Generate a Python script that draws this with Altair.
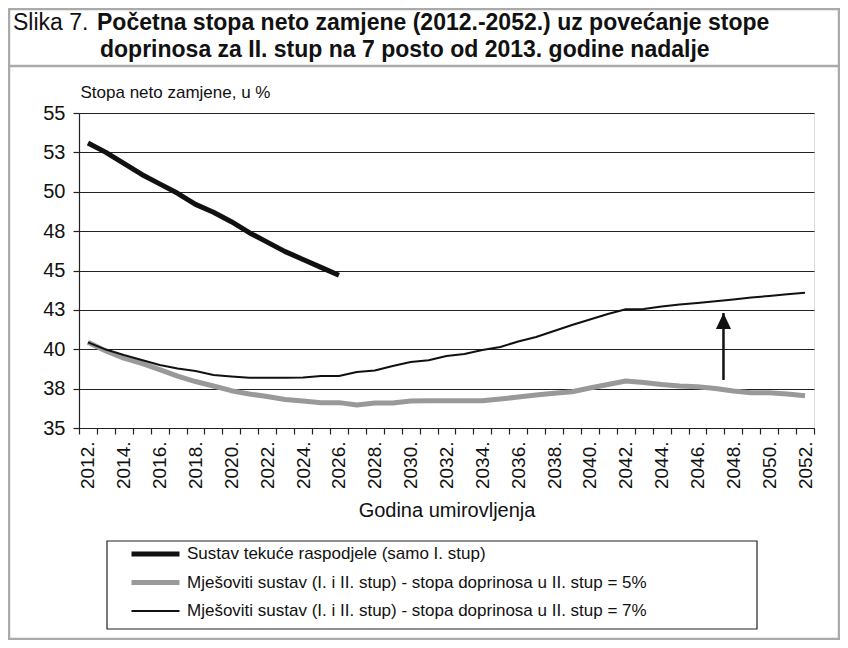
import altair as alt
import pandas as pd

# ---------------- data ----------------
years = list(range(2012, 2053))
payg_years = list(range(2012, 2027))
payg = [53.1, 52.5, 51.8, 51.1, 50.5, 49.9, 49.2, 48.7, 48.1, 47.4, 46.8, 46.2, 45.7, 45.2, 44.7]
mixed5 = [40.44, 39.89, 39.44, 39.10, 38.71, 38.30, 37.95, 37.67, 37.37, 37.16,
          37.00, 36.81, 36.71, 36.61, 36.61, 36.46, 36.59, 36.59, 36.71, 36.73,
          36.73, 36.73, 36.73, 36.84, 36.97, 37.10, 37.20, 37.30, 37.54, 37.76,
          37.98, 37.89, 37.76, 37.67, 37.62, 37.51, 37.35, 37.24, 37.24, 37.16, 37.05]
mixed7 = [40.44, 39.98, 39.63, 39.32, 39.00, 38.78, 38.62, 38.37, 38.27, 38.19,
          38.19, 38.19, 38.20, 38.30, 38.30, 38.56, 38.65, 38.94, 39.19, 39.30,
          39.57, 39.70, 39.95, 40.14, 40.49, 40.78, 41.16, 41.54, 41.89, 42.24,
          42.54, 42.56, 42.71, 42.84, 42.94, 43.04, 43.16, 43.29, 43.38, 43.49, 43.59]

series_names = [
    "Sustav tekuće raspodjele (samo I. stup)",
    "Mješoviti sustav (I. i II. stup) - stopa doprinosa u II. stup = 5%",
    "Mješoviti sustav (I. i II. stup) - stopa doprinosa u II. stup = 7%",
]
series_colors = ["#111111", "#999999", "#111111"]
series_widths = [5, 5, 2]

y_ticks = [35, 37.5, 40, 42.5, 45, 47.5, 50, 52.5, 55]
x_tick_bounds = [y - 0.5 for y in range(2012, 2054)]
x_label_years = list(range(2012, 2053, 2))

title_prefix = "Slika 7."
title_line1 = "Početna stopa neto zamjene (2012.-2052.) uz povećanje stope"
title_line2 = "doprinosa za II. stup na 7 posto od 2013. godine nadalje"
y_title = "Stopa neto zamjene, u %"
x_title = "Godina umirovljenja"

arrow_year = [2047.45]
arrow_from = [38.05]
arrow_to = [42.3]

# ---------------- tables ----------------
rows = []
for yr, v in zip(payg_years, payg):
    rows.append({"year": yr, "value": v, "series": series_names[0]})
for yr, v in zip(years, mixed5):
    rows.append({"year": yr, "value": v, "series": series_names[1]})
for yr, v in zip(years, mixed7):
    rows.append({"year": yr, "value": v, "series": series_names[2]})
df = pd.DataFrame(rows)
arrow_df = pd.DataFrame({"year": arrow_year, "value": arrow_from, "to": arrow_to})

FONT = "Liberation Sans"
W, H = 735, 315

x_scale = alt.Scale(domain=[2011.5, 2052.5], nice=False, zero=False)
y_scale = alt.Scale(domain=[35, 55], nice=False, zero=False)

x_axis = alt.Axis(
    values=x_tick_bounds + x_label_years,
    labelExpr="datum.value % 2 === 0 ? datum.value + '.' : ''",
    labelAngle=270, labelAlign="right", labelBaseline="middle",
    labelOverlap=False, labelFlush=False, labelBound=False,
    labelFontSize=19, labelFont=FONT, labelColor="#111", labelPadding=7,
    tickSize=6, tickColor="#222", tickWidth=1.2,
    tickOpacity={"condition": {"test": "datum.value % 1 === 0", "value": 0}, "value": 1},
    domainColor="#222", domainWidth=1.2, grid=False,
    title=x_title, titleFontSize=20, titleFont=FONT, titleFontWeight="normal",
    titleColor="#111", titleBaseline="alphabetic", titleY=88,
)
y_axis = alt.Axis(
    values=y_ticks, format=".0f", grid=True, gridColor="#222", gridWidth=1.2,
    domainColor="#222", domainWidth=1.2, tickColor="#222", tickWidth=1.2,
    tickSize=6, labelPadding=8, labelFontSize=20, labelFont=FONT, labelColor="#111",
    labelOverlap=False,
    title=y_title, titleAngle=0, titleAlign="left", titleBaseline="alphabetic",
    titleX=1, titleY=-16, titleFontSize=17, titleFont=FONT,
    titleFontWeight="normal", titleColor="#111",
)

legend = alt.Legend(
    title=None, orient="none", legendX=50, legendY=432.5, padding=0,
    symbolType="stroke", symbolSize=2304, clipHeight=17, rowPadding=10.5,
    labelFontSize=17, labelFont=FONT, labelOffset=5, labelLimit=900,
    labelColor="#111", direction="vertical",
)

lines = alt.Chart(df).mark_line(strokeCap="butt", strokeJoin="round").encode(
    x=alt.X("year:Q", scale=x_scale, axis=x_axis),
    y=alt.Y("value:Q", scale=y_scale, axis=y_axis),
    color=alt.Color("series:N", scale=alt.Scale(domain=series_names, range=series_colors),
                    sort=series_names, legend=legend),
    strokeWidth=alt.StrokeWidth("series:N", scale=alt.Scale(type="ordinal", domain=series_names,
                                                            range=series_widths),
                                sort=series_names, legend=legend),
    detail="series:N",
)

arrow_rule = alt.Chart(arrow_df).mark_rule(color="#111", strokeWidth=2.5).encode(
    x=alt.X("year:Q", scale=x_scale, axis=x_axis),
    y=alt.Y("value:Q", scale=y_scale, axis=y_axis),
    y2="to:Q",
)
arrow_head = alt.Chart(arrow_df).mark_point(
    shape="M0,0L0.94,2L-0.94,2Z", size=256, filled=True, color="#111", opacity=1
).encode(
    x=alt.X("year:Q", scale=x_scale, axis=x_axis),
    y=alt.Y("to:Q", scale=y_scale, axis=y_axis),
)

one = alt.Data(values=[{"k": 1}])

frame = alt.Chart(one).mark_rect(fillOpacity=0, stroke="#aaaaaa", strokeWidth=2.5).encode(
    x=alt.value(-70), x2=alt.value(760), y=alt.value(-104), y2=alt.value(526))
separator = alt.Chart(one).mark_rule(stroke="#aaaaaa", strokeWidth=2.5).encode(
    x=alt.value(-70), x2=alt.value(760), y=alt.value(-47))
legend_box = alt.Chart(one).mark_rect(fillOpacity=0, stroke="#222", strokeWidth=1.2).encode(
    x=alt.value(28), x2=alt.value(678), y=alt.value(428), y2=alt.value(516))

t_prefix = alt.Chart(one).mark_text(align="left", baseline="alphabetic", font=FONT,
                                    fontSize=23, color="#111").encode(
    x=alt.value(-66), y=alt.value(-83), text=alt.value(title_prefix))
t_line1 = alt.Chart(one).mark_text(align="left", baseline="alphabetic", font=FONT,
                                   fontSize=23, fontWeight="bold", color="#111").encode(
    x=alt.value(18), y=alt.value(-83), text=alt.value(title_line1))
t_line2 = alt.Chart(one).mark_text(align="left", baseline="alphabetic", font=FONT,
                                   fontSize=23, fontWeight="bold", color="#111").encode(
    x=alt.value(21), y=alt.value(-56), text=alt.value(title_line2))

chart = alt.layer(
    lines, arrow_rule, arrow_head,
    frame, separator, legend_box, t_prefix, t_line1, t_line2,
).properties(
    width=W, height=H,
    padding={"left": 71, "top": 105, "right": 26, "bottom": 212},
    autosize=alt.AutoSizeParams(type="none"),
).configure_view(
    stroke="#444", strokeWidth=1.5
).configure(background="white")

chart.save("out.html", embed_options={"renderer": "svg", "actions": False})
